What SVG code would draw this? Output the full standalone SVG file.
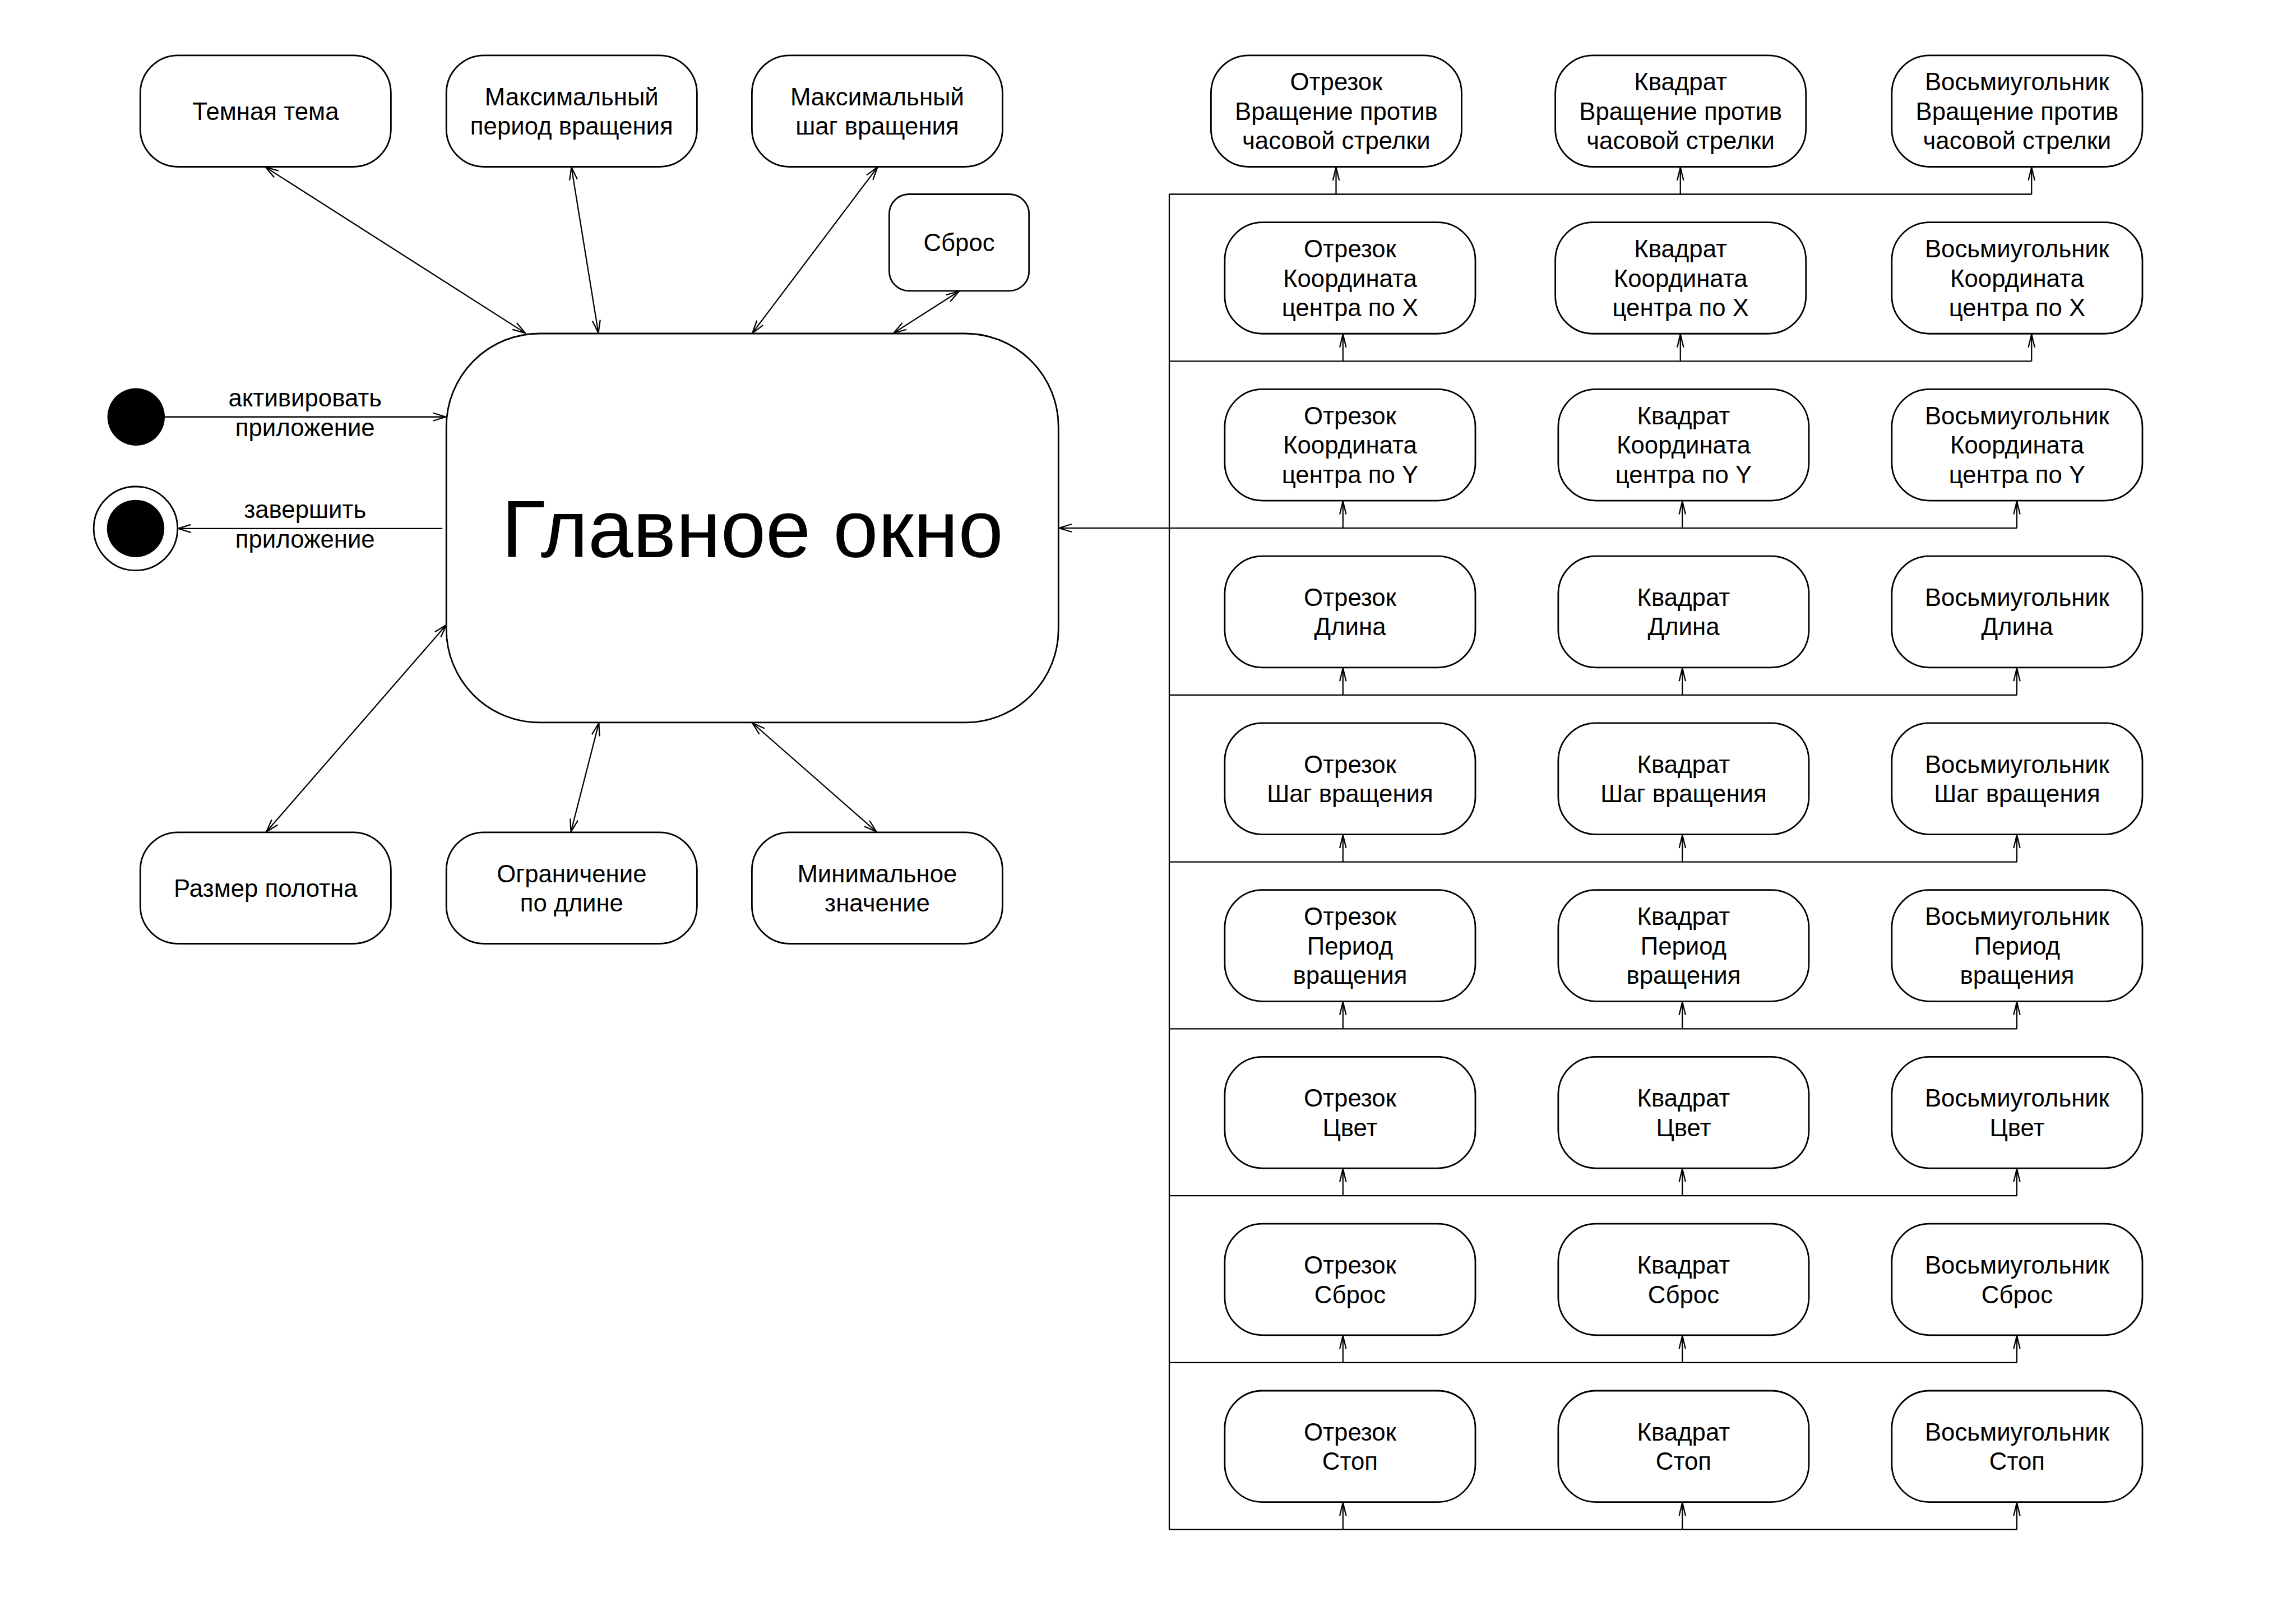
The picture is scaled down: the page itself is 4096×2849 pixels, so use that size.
<svg xmlns="http://www.w3.org/2000/svg" width="4096" height="2849" viewBox="0 0 4096 2849">
<style>
.n rect{fill:#fff;stroke:#000;stroke-width:3.2}
.t{font-family:"Liberation Sans",Arial,sans-serif;font-size:50px;text-anchor:middle;fill:#000}
.big{font-size:165px}
.e{fill:none;stroke:#000;stroke-width:2.6}
.d{marker-start:url(#a);marker-end:url(#a)}
.s{marker-end:url(#a)}
.u{marker-end:url(#b)}
</style>
<defs>
<marker id="a" markerUnits="userSpaceOnUse" orient="auto-start-reverse" overflow="visible" refX="0" refY="0" markerWidth="1" markerHeight="1"><path d="M-26,-8 L0,0 L-26,8" fill="none" stroke="#000" stroke-width="2.6"/></marker>
<marker id="b" markerUnits="userSpaceOnUse" orient="auto" overflow="visible" refX="0" refY="0" markerWidth="1" markerHeight="1"><path d="M-27,-6.5 L0,0 L-27,6.5" fill="none" stroke="#000" stroke-width="2.6"/></marker>
</defs>
<rect width="4096" height="2849" fill="#fff"/>
<g transform="scale(0.875)">
<g id="connectors">
<path class="e d" d="M541.5,341 L1071,679"/>
<path class="e d" d="M1165,341 L1220,679"/>
<path class="e d" d="M1789,341 L1534,679"/>
<path class="e d" d="M1955,594 L1822,679"/>
<path class="e d" d="M543,1696 L910,1274"/>
<path class="e d" d="M1164,1696 L1221,1474"/>
<path class="e d" d="M1787,1696 L1534,1474"/>
<path class="e s" d="M336,850 L909,850"/>
<path class="e s" d="M902,1077.5 L363,1077.5"/>
<path class="e s" d="M2384,1076.6 L2159,1076.6"/>
<path class="e" d="M2384,396 L2384,3118.4"/>
<path class="e" d="M2384,396 L4142,396"/>
<path class="e" d="M2384,736.3 L4142,736.3"/>
<path class="e" d="M2384,1076.6 L4112,1076.6"/>
<path class="e" d="M2384,1416.9 L4112,1416.9"/>
<path class="e" d="M2384,1757.2 L4112,1757.2"/>
<path class="e" d="M2384,2097.5 L4112,2097.5"/>
<path class="e" d="M2384,2437.8 L4112,2437.8"/>
<path class="e" d="M2384,2778.1 L4112,2778.1"/>
<path class="e" d="M2384,3118.4 L4112,3118.4"/>
<path class="e u" d="M2724,396 L2724,341"/>
<path class="e u" d="M3426,396 L3426,341"/>
<path class="e u" d="M4142,396 L4142,341"/>
<path class="e u" d="M2738,736.3 L2738,681.3"/>
<path class="e u" d="M3426,736.3 L3426,681.3"/>
<path class="e u" d="M4142,736.3 L4142,681.3"/>
<path class="e u" d="M2738,1076.6 L2738,1021.6"/>
<path class="e u" d="M3430,1076.6 L3430,1021.6"/>
<path class="e u" d="M4112,1076.6 L4112,1021.6"/>
<path class="e u" d="M2738,1416.9 L2738,1361.9"/>
<path class="e u" d="M3430,1416.9 L3430,1361.9"/>
<path class="e u" d="M4112,1416.9 L4112,1361.9"/>
<path class="e u" d="M2738,1757.2 L2738,1702.2"/>
<path class="e u" d="M3430,1757.2 L3430,1702.2"/>
<path class="e u" d="M4112,1757.2 L4112,1702.2"/>
<path class="e u" d="M2738,2097.5 L2738,2042.5"/>
<path class="e u" d="M3430,2097.5 L3430,2042.5"/>
<path class="e u" d="M4112,2097.5 L4112,2042.5"/>
<path class="e u" d="M2738,2437.8 L2738,2382.8"/>
<path class="e u" d="M3430,2437.8 L3430,2382.8"/>
<path class="e u" d="M4112,2437.8 L4112,2382.8"/>
<path class="e u" d="M2738,2778.1 L2738,2723.1"/>
<path class="e u" d="M3430,2778.1 L3430,2723.1"/>
<path class="e u" d="M4112,2778.1 L4112,2723.1"/>
<path class="e u" d="M2738,3118.4 L2738,3063.4"/>
<path class="e u" d="M3430,3118.4 L3430,3063.4"/>
<path class="e u" d="M4112,3118.4 L4112,3063.4"/>
</g>
<g id="start"><circle cx="277.5" cy="850" r="58.5" fill="#000"/></g>
<g id="end"><circle cx="276.5" cy="1077.5" r="85.5" fill="#fff" stroke="#000" stroke-width="3.2"/><circle cx="276.5" cy="1077.5" r="58.5" fill="#000"/></g>
<g id="lbl-start"><text class="t" x="622" y="829">активировать</text><text class="t" x="622" y="889">приложение</text></g>
<g id="lbl-end"><text class="t" x="622" y="1056">завершить</text><text class="t" x="622" y="1116">приложение</text></g>
<g id="main" class="n"><rect x="910" y="680" width="1248" height="793" rx="190"/><text class="t big" x="1534" y="1136">Главное окно</text></g>
<g id="dark" class="n"><rect x="286" y="113" width="511" height="227" rx="77"/><text class="t" x="541.5" y="244.5">Темная тема</text></g>
<g id="maxperiod" class="n"><rect x="910" y="113" width="511" height="227" rx="77"/><text class="t" x="1165.5" y="214.5">Максимальный</text><text class="t" x="1165.5" y="274.5">период вращения</text></g>
<g id="maxstep" class="n"><rect x="1533" y="113" width="511" height="227" rx="77"/><text class="t" x="1788.5" y="214.5">Максимальный</text><text class="t" x="1788.5" y="274.5">шаг вращения</text></g>
<g id="reset" class="n"><rect x="1813" y="396" width="285" height="197" rx="40"/><text class="t" x="1955.5" y="512.5">Сброс</text></g>
<g id="canvas" class="n"><rect x="286" y="1697" width="511" height="227" rx="77"/><text class="t" x="541.5" y="1828.5">Размер полотна</text></g>
<g id="limit" class="n"><rect x="910" y="1697" width="511" height="227" rx="77"/><text class="t" x="1165.5" y="1798.5">Ограничение</text><text class="t" x="1165.5" y="1858.5">по длине</text></g>
<g id="minval" class="n"><rect x="1533" y="1697" width="511" height="227" rx="77"/><text class="t" x="1788.5" y="1798.5">Минимальное</text><text class="t" x="1788.5" y="1858.5">значение</text></g>
<g id="r0c0" class="n"><rect x="2469" y="113" width="511" height="227" rx="77"/><text class="t" x="2724.5" y="184.5">Отрезок</text><text class="t" x="2724.5" y="244.5">Вращение против</text><text class="t" x="2724.5" y="304.5">часовой стрелки</text></g>
<g id="r0c1" class="n"><rect x="3171" y="113" width="511" height="227" rx="77"/><text class="t" x="3426.5" y="184.5">Квадрат</text><text class="t" x="3426.5" y="244.5">Вращение против</text><text class="t" x="3426.5" y="304.5">часовой стрелки</text></g>
<g id="r0c2" class="n"><rect x="3857" y="113" width="511" height="227" rx="77"/><text class="t" x="4112.5" y="184.5">Восьмиугольник</text><text class="t" x="4112.5" y="244.5">Вращение против</text><text class="t" x="4112.5" y="304.5">часовой стрелки</text></g>
<g id="r1c0" class="n"><rect x="2497" y="453.3" width="511" height="227" rx="77"/><text class="t" x="2752.5" y="524.8">Отрезок</text><text class="t" x="2752.5" y="584.8">Координата</text><text class="t" x="2752.5" y="644.8">центра по X</text></g>
<g id="r1c1" class="n"><rect x="3171" y="453.3" width="511" height="227" rx="77"/><text class="t" x="3426.5" y="524.8">Квадрат</text><text class="t" x="3426.5" y="584.8">Координата</text><text class="t" x="3426.5" y="644.8">центра по X</text></g>
<g id="r1c2" class="n"><rect x="3857" y="453.3" width="511" height="227" rx="77"/><text class="t" x="4112.5" y="524.8">Восьмиугольник</text><text class="t" x="4112.5" y="584.8">Координата</text><text class="t" x="4112.5" y="644.8">центра по X</text></g>
<g id="r2c0" class="n"><rect x="2497" y="793.6" width="511" height="227" rx="77"/><text class="t" x="2752.5" y="865.1">Отрезок</text><text class="t" x="2752.5" y="925.1">Координата</text><text class="t" x="2752.5" y="985.1">центра по Y</text></g>
<g id="r2c1" class="n"><rect x="3177" y="793.6" width="511" height="227" rx="77"/><text class="t" x="3432.5" y="865.1">Квадрат</text><text class="t" x="3432.5" y="925.1">Координата</text><text class="t" x="3432.5" y="985.1">центра по Y</text></g>
<g id="r2c2" class="n"><rect x="3857" y="793.6" width="511" height="227" rx="77"/><text class="t" x="4112.5" y="865.1">Восьмиугольник</text><text class="t" x="4112.5" y="925.1">Координата</text><text class="t" x="4112.5" y="985.1">центра по Y</text></g>
<g id="r3c0" class="n"><rect x="2497" y="1133.9" width="511" height="227" rx="77"/><text class="t" x="2752.5" y="1235.4">Отрезок</text><text class="t" x="2752.5" y="1295.4">Длина</text></g>
<g id="r3c1" class="n"><rect x="3177" y="1133.9" width="511" height="227" rx="77"/><text class="t" x="3432.5" y="1235.4">Квадрат</text><text class="t" x="3432.5" y="1295.4">Длина</text></g>
<g id="r3c2" class="n"><rect x="3857" y="1133.9" width="511" height="227" rx="77"/><text class="t" x="4112.5" y="1235.4">Восьмиугольник</text><text class="t" x="4112.5" y="1295.4">Длина</text></g>
<g id="r4c0" class="n"><rect x="2497" y="1474.2" width="511" height="227" rx="77"/><text class="t" x="2752.5" y="1575.7">Отрезок</text><text class="t" x="2752.5" y="1635.7">Шаг вращения</text></g>
<g id="r4c1" class="n"><rect x="3177" y="1474.2" width="511" height="227" rx="77"/><text class="t" x="3432.5" y="1575.7">Квадрат</text><text class="t" x="3432.5" y="1635.7">Шаг вращения</text></g>
<g id="r4c2" class="n"><rect x="3857" y="1474.2" width="511" height="227" rx="77"/><text class="t" x="4112.5" y="1575.7">Восьмиугольник</text><text class="t" x="4112.5" y="1635.7">Шаг вращения</text></g>
<g id="r5c0" class="n"><rect x="2497" y="1814.5" width="511" height="227" rx="77"/><text class="t" x="2752.5" y="1886">Отрезок</text><text class="t" x="2752.5" y="1946">Период</text><text class="t" x="2752.5" y="2006">вращения</text></g>
<g id="r5c1" class="n"><rect x="3177" y="1814.5" width="511" height="227" rx="77"/><text class="t" x="3432.5" y="1886">Квадрат</text><text class="t" x="3432.5" y="1946">Период</text><text class="t" x="3432.5" y="2006">вращения</text></g>
<g id="r5c2" class="n"><rect x="3857" y="1814.5" width="511" height="227" rx="77"/><text class="t" x="4112.5" y="1886">Восьмиугольник</text><text class="t" x="4112.5" y="1946">Период</text><text class="t" x="4112.5" y="2006">вращения</text></g>
<g id="r6c0" class="n"><rect x="2497" y="2154.8" width="511" height="227" rx="77"/><text class="t" x="2752.5" y="2256.3">Отрезок</text><text class="t" x="2752.5" y="2316.3">Цвет</text></g>
<g id="r6c1" class="n"><rect x="3177" y="2154.8" width="511" height="227" rx="77"/><text class="t" x="3432.5" y="2256.3">Квадрат</text><text class="t" x="3432.5" y="2316.3">Цвет</text></g>
<g id="r6c2" class="n"><rect x="3857" y="2154.8" width="511" height="227" rx="77"/><text class="t" x="4112.5" y="2256.3">Восьмиугольник</text><text class="t" x="4112.5" y="2316.3">Цвет</text></g>
<g id="r7c0" class="n"><rect x="2497" y="2495.1" width="511" height="227" rx="77"/><text class="t" x="2752.5" y="2596.6">Отрезок</text><text class="t" x="2752.5" y="2656.6">Сброс</text></g>
<g id="r7c1" class="n"><rect x="3177" y="2495.1" width="511" height="227" rx="77"/><text class="t" x="3432.5" y="2596.6">Квадрат</text><text class="t" x="3432.5" y="2656.6">Сброс</text></g>
<g id="r7c2" class="n"><rect x="3857" y="2495.1" width="511" height="227" rx="77"/><text class="t" x="4112.5" y="2596.6">Восьмиугольник</text><text class="t" x="4112.5" y="2656.6">Сброс</text></g>
<g id="r8c0" class="n"><rect x="2497" y="2835.4" width="511" height="227" rx="77"/><text class="t" x="2752.5" y="2936.9">Отрезок</text><text class="t" x="2752.5" y="2996.9">Стоп</text></g>
<g id="r8c1" class="n"><rect x="3177" y="2835.4" width="511" height="227" rx="77"/><text class="t" x="3432.5" y="2936.9">Квадрат</text><text class="t" x="3432.5" y="2996.9">Стоп</text></g>
<g id="r8c2" class="n"><rect x="3857" y="2835.4" width="511" height="227" rx="77"/><text class="t" x="4112.5" y="2936.9">Восьмиугольник</text><text class="t" x="4112.5" y="2996.9">Стоп</text></g>
</g>
</svg>
